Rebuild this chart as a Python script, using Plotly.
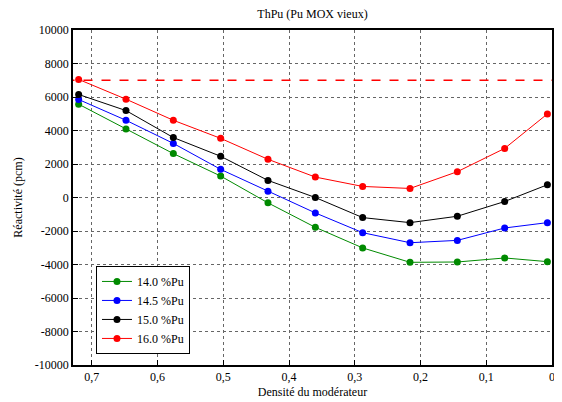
import plotly.graph_objects as go

density = [0.72, 0.648, 0.576, 0.504, 0.432, 0.36, 0.288, 0.216, 0.144, 0.072, 0.007]
pu140 = [5570, 4090, 2620, 1280, -320, -1780, -3010, -3870, -3850, -3610, -3830]
pu145 = [5850, 4610, 3230, 1680, 380, -920, -2100, -2700, -2560, -1820, -1500]
pu150 = [6150, 5190, 3580, 2460, 1020, 0, -1200, -1500, -1120, -240, 760]
pu160 = [7050, 5870, 4610, 3530, 2280, 1220, 660, 540, 1540, 2930, 4990]
limit = 7000

series_names = ["14.0 %Pu", "14.5 %Pu", "15.0 %Pu", "16.0 %Pu"]
series_colors = ["#008a00", "#0000ff", "#000000", "#ff0000"]

xtick_vals = [0.7, 0.6, 0.5, 0.4, 0.3, 0.2, 0.1, 0]
xtick_text = ["0,7", "0,6", "0,5", "0,4", "0,3", "0,2", "0,1", "0"]
ytick_vals = list(range(-10000, 10001, 2000))
ytick_text = [str(v) for v in ytick_vals]

font = "Liberation Serif, Times New Roman, serif"

fig = go.Figure()
fig.add_trace(go.Scatter(x=[0.74, -0.01], y=[limit, limit], mode="lines",
                         line=dict(color="red", width=1.5, dash="dash"),
                         showlegend=False, hoverinfo="skip"))
for name, vals, col in zip(series_names, [pu140, pu145, pu150, pu160], series_colors):
    fig.add_trace(go.Scatter(x=density, y=vals, mode="lines+markers", name=name,
                             line=dict(color=col, width=1),
                             marker=dict(color=col, size=7),
                             cliponaxis=False))

axis_common = dict(showline=True, linecolor="black", linewidth=1.5, mirror=True,
                   ticks="inside", ticklen=5, tickcolor="black", automargin=False,
                   showgrid=True, gridcolor="#666666", griddash="dot", gridwidth=1,
                   zeroline=False, tickfont=dict(family=font, size=12, color="black"))

fig.update_layout(
    width=554, height=394,
    margin=dict(l=65, r=10, t=22, b=37),
    paper_bgcolor="white", plot_bgcolor="white",
    font=dict(family=font, size=12, color="black"),
    title=dict(text="ThPu (Pu MOX vieux)", x=0.5, xanchor="center", xref="paper",
               y=1 - 6 / 394, yref="container", yanchor="middle", automargin=False,
               font=dict(family=font, size=12, color="black")),
    xaxis=dict(range=[0.7286, 0], tickvals=xtick_vals, ticktext=xtick_text,
               title=dict(text="Densité du modérateur", standoff=4,
                          font=dict(family=font, size=12)), **axis_common),
    yaxis=dict(range=[-10000, 10000], tickvals=ytick_vals, ticktext=ytick_text,
               title=dict(text="Réactivité (pcm)", standoff=10,
                          font=dict(family=font, size=12)), **axis_common),
    legend=dict(x=0.048, y=0.033, xanchor="left", yanchor="bottom",
                bgcolor="white", bordercolor="black", borderwidth=1,
                font=dict(family=font, size=12, color="black"),
                tracegroupgap=0, itemwidth=30),
    showlegend=True,
)

fig.write_html("out.html")
